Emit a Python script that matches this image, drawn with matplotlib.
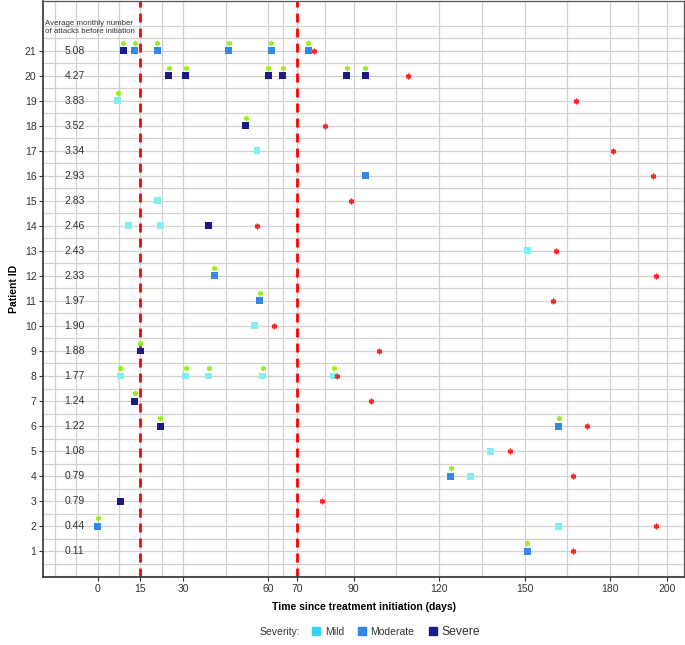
import numpy as np
import matplotlib
matplotlib.use("Agg")
import matplotlib.pyplot as plt
from matplotlib.lines import Line2D

plt.rcParams['font.family'] = ['Liberation Sans', 'DejaVu Sans']

# patient rows, average monthly attacks before initiation
patients = list(range(1, 22))
avg_attacks = ["0.11", "0.44", "0.79", "0.79", "1.08", "1.22", "1.24", "1.77", "1.88", "1.90",
               "1.97", "2.33", "2.43", "2.46", "2.83", "2.93", "3.34", "3.52", "3.83", "4.27", "5.08"]

# end of follow-up (red asterisk), one per patient 1..21
followup_end = [167, 196, 79, 167, 145, 172, 96, 84, 99, 62,
                160, 196, 161, 56, 89, 195, 181, 80, 168, 109, 76]

# attacks: patient, day, severity, green mark shown
attack_patient = [21, 21, 21, 21, 21, 21,
                  20, 20, 20, 20, 20, 20,
                  19, 18, 17, 16, 15,
                  14, 14, 14,
                  13, 12, 11, 10, 9,
                  8, 8, 8, 8, 8,
                  7, 6, 6, 5, 4, 4, 3, 2, 2, 1]
attack_day = [9, 13, 21, 46, 61, 74,
              25, 31, 60, 65, 87.5, 94,
              7, 52, 56, 94, 21,
              11, 22, 39,
              151, 41, 57, 55, 15,
              8, 31, 39, 58, 83,
              13, 22, 162, 138, 124, 131, 8, 0, 162, 151]
attack_sev = ["Severe", "Moderate", "Moderate", "Moderate", "Moderate", "Moderate",
              "Severe", "Severe", "Severe", "Severe", "Severe", "Severe",
              "Mild", "Severe", "Mild", "Moderate", "Mild",
              "Mild", "Mild", "Severe",
              "Mild", "Moderate", "Moderate", "Mild", "Severe",
              "Mild", "Mild", "Mild", "Mild", "Mild",
              "Severe", "Severe", "Moderate", "Mild", "Moderate", "Mild", "Severe", "Moderate", "Mild", "Moderate"]
attack_flag = [1, 1, 1, 1, 1, 1,
               1, 1, 1, 1, 1, 1,
               1, 1, 0, 0, 0,
               0, 0, 0,
               0, 1, 1, 0, 1,
               1, 1, 1, 1, 1,
               1, 1, 1, 0, 1, 0, 0, 1, 0, 1]

x_breaks = [0, 15, 30, 60, 70, 90, 120, 150, 180, 200]
x_minor = [-15, -7.5, 7.5, 22.5, 45, 65, 80, 105, 135, 165, 190]
cut_days = [15, 70]

sev_colors = {"Mild": "#7FEFF0", "Moderate": "#3388EE", "Severe": "#1A1A8C"}
legend_colors = {"Mild": "#33D6EE", "Moderate": "#3388EE", "Severe": "#1A1A8C"}

fig = plt.figure(figsize=(6.85, 6.45), dpi=100)
ax = fig.add_axes([0.0635, 0.1055, 0.935, 0.8935])

ax.set_xlim(-19, 206)
ax.set_ylim(-0.03, 23)

grid_c = "#D2D2D2"
for x in x_breaks + x_minor:
    ax.axvline(x, color=grid_c, lw=0.9, zorder=0)
for y in np.arange(0, 22.5, 0.5):
    ax.axhline(y, color=grid_c, lw=0.9, zorder=0)

for d in cut_days:
    ax.axvline(d, color="#FF0000", lw=2.0, ls=(0, (3.2, 2.2)), zorder=2)

attack_day = np.array(attack_day, dtype=float)
attack_patient = np.array(attack_patient, dtype=float)
attack_flag = np.array(attack_flag, dtype=bool)
attack_sev = np.array(attack_sev)

for sev, col in sev_colors.items():
    m = attack_sev == sev
    ax.scatter(attack_day[m], attack_patient[m], marker="s", s=25, color=col,
               edgecolor="none", zorder=4)

ax.scatter(attack_day[attack_flag], attack_patient[attack_flag] + 0.32, marker=(6, 2, 0),
           s=9, color="#99EE22", linewidths=1.1, zorder=3)
ax.scatter(followup_end, patients, marker=(6, 2, 0), s=10, color="#FF2222",
           linewidths=1.1, zorder=4)

for p, v in zip(patients, avg_attacks):
    ax.text(-8, p, v, ha="center", va="center", fontsize=7.5, color="#333333")
ax.text(-18.3, 21.93, "Average monthly number\nof attacks before initiation",
        ha="left", va="center", fontsize=5.7, color="#333333", linespacing=1.2)

ax.set_xticks(x_breaks)
ax.set_xticklabels([str(b) for b in x_breaks])
ax.set_yticks(patients)
ax.set_yticklabels([str(p) for p in patients])
ax.tick_params(axis="both", length=3, width=0.8, color="#333333", labelsize=7.5,
               labelcolor="#333333", pad=2)
ax.set_xlabel("Time since treatment initiation (days)", fontsize=7.5, fontweight="bold",
              labelpad=6)
ax.set_ylabel("Patient ID", fontsize=7.5, fontweight="bold", labelpad=4)

for s in ["left", "bottom"]:
    ax.spines[s].set_color("#333333")
    ax.spines[s].set_linewidth(1.2)
for s in ["top", "right"]:
    ax.spines[s].set_color("#555555")
    ax.spines[s].set_linewidth(0.9)

handles = [Line2D([], [], marker="s", ls="none", markersize=6, color=legend_colors[k])
           for k in ["Mild", "Moderate", "Severe"]]
leg = fig.legend(handles, ["Mild", "Moderate", "Severe"], loc="center",
                 bbox_to_anchor=(0.578, 0.02), ncol=3, frameon=False, fontsize=7.5,
                 handlelength=0.8, handletextpad=0.4, columnspacing=1.35)
leg.get_texts()[2].set_fontsize(8.7)
for t in leg.get_texts():
    t.set_color("#333333")
fig.text(0.438, 0.02, "Severity:", ha="right", va="center", fontsize=7.5, color="#333333")

fig.savefig("out.png", dpi=100)
